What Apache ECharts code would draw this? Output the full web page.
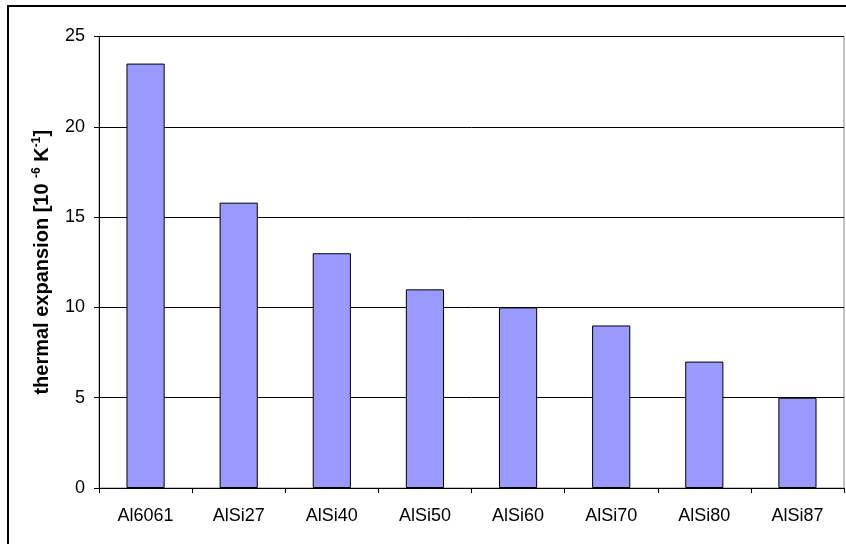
<!DOCTYPE html>
<html>
<head>
<meta charset="utf-8">
<script src="https://cdn.jsdelivr.net/npm/echarts@6/dist/echarts.min.js"></script>
<style>
html,body{margin:0;padding:0;background:#fff;}
#chart{width:846px;height:544px;}
</style>
</head>
<body>
<div id="chart"></div>
<script>
var categories = ['Al6061', 'AlSi27', 'AlSi40', 'AlSi50', 'AlSi60', 'AlSi70', 'AlSi80', 'AlSi87'];
var expansion = [23.5, 15.8, 13, 11, 10, 9, 7, 5];
var yTicks = [0, 5, 10, 15, 20, 25];

var chart = echarts.init(document.getElementById('chart'), null, {renderer: 'canvas'});
var font = '"Liberation Sans", Arial, sans-serif';
chart.setOption({
  animation: false,
  backgroundColor: '#fff',
  graphic: [{
    type: 'rect',
    shape: {x: 8, y: 6, width: 900, height: 600},
    style: {fill: 'none', stroke: '#000', lineWidth: 2},
    silent: true
  }],
  grid: {left: 99, right: 2, top: 36.5, bottom: 56, show: true, borderColor: '#888', borderWidth: 1},
  xAxis: {
    type: 'category',
    data: categories,
    axisLine: {lineStyle: {color: '#000', width: 1}},
    axisTick: {show: true, inside: false, length: 5, alignWithLabel: false, lineStyle: {color: '#000'}},
    axisLabel: {color: '#000', fontFamily: font, fontSize: 18, margin: 19}
  },
  yAxis: {
    type: 'value',
    min: yTicks[0],
    max: yTicks[yTicks.length - 1],
    interval: 5,
    axisLine: {show: true, lineStyle: {color: '#000', width: 1}},
    axisTick: {show: true, inside: false, length: 5, lineStyle: {color: '#000'}},
    axisLabel: {color: '#000', fontFamily: font, fontSize: 18, margin: 14},
    splitLine: {show: true, lineStyle: {color: '#000', width: 1}},
    name: '{a|thermal expansion [10 }{s|-6}{a| K}{s|-1}{a|]}',
    nameLocation: 'middle',
    nameGap: 46,
    nameRotate: 90,
    nameTextStyle: {
      rich: {
        a: {fontFamily: font, fontSize: 20, fontWeight: 'bold', color: '#000', lineHeight: 22},
        s: {fontFamily: font, fontSize: 12, fontWeight: 'bold', color: '#000', verticalAlign: 'top', lineHeight: 22, padding: [0, 0, 8, 0]}
      }
    }
  },
  series: [{
    type: 'bar',
    data: expansion,
    barWidth: '41%',
    itemStyle: {color: '#9999FF', borderColor: '#000', borderWidth: 1}
  }]
});
</script>
</body>
</html>
